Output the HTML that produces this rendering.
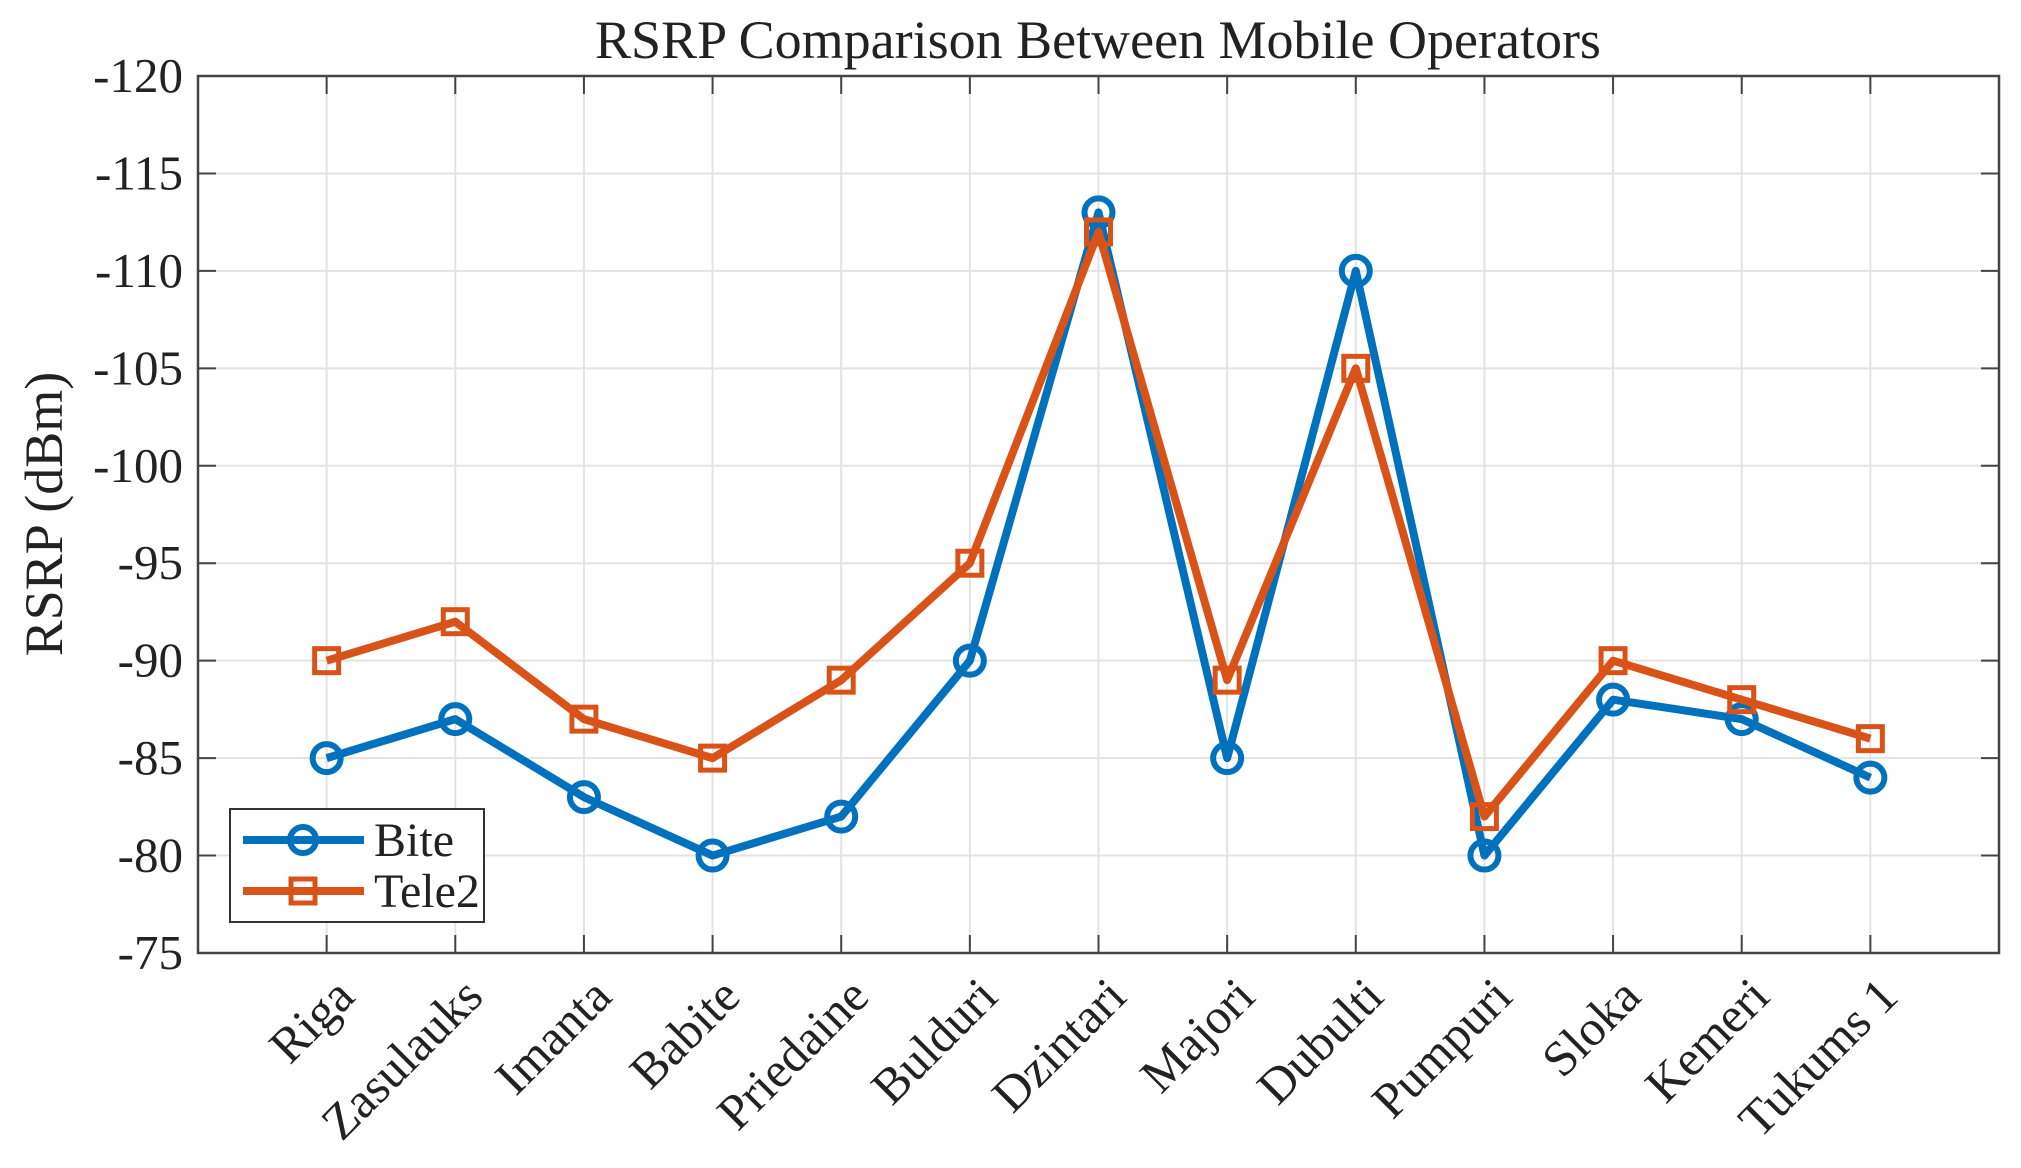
<!DOCTYPE html>
<html><head><meta charset="utf-8"><style>
html,body{margin:0;padding:0;background:#fff;}
svg{display:block;font-family:"Liberation Serif","Times New Roman",serif;}
</style></head><body>
<svg id="chart" width="2021" height="1168" viewBox="0 0 2021 1168" xmlns="http://www.w3.org/2000/svg">
<rect width="2021" height="1168" fill="#fff"/>
<g id="grid"></g>
<g id="axes"></g>
<g id="series"></g>
<text x="1098" y="58" font-size="54" text-anchor="middle" fill="#222">RSRP Comparison Between Mobile Operators</text>
<text transform="translate(62,514) rotate(-90)" font-size="54" text-anchor="middle" fill="#222">RSRP (dBm)</text>
<g>
<rect x="230" y="809" width="254" height="113" fill="#fff" stroke="#333" stroke-width="2"/>
<g>
<line x1="243" y1="840" x2="364" y2="840" stroke="#0072BD" stroke-width="8"/>
<circle cx="303" cy="840" r="13" fill="none" stroke="#0072BD" stroke-width="6"/>
<text x="374" y="856" font-size="48" fill="#222">Bite</text>
</g>
<g>
<line x1="243" y1="891" x2="364" y2="891" stroke="#D95319" stroke-width="8"/>
<rect x="291" y="879" width="24" height="24" fill="none" stroke="#D95319" stroke-width="5"/>
<text x="374" y="907" font-size="48" fill="#222">Tele2</text>
</g>
</g>
</svg>
<script>
const categories = ["Riga","Zasulauks","Imanta","Babite","Priedaine","Bulduri","Dzintari","Majori","Dubulti","Pumpuri","Sloka","Kemeri","Tukums 1"];
const biteValues = [-85,-87,-83,-80,-82,-90,-113,-85,-110,-80,-88,-87,-84];
const tele2Values = [-90,-92,-87,-85,-89,-95,-112,-89,-105,-82,-90,-88,-86];
const yTicks = [-120,-115,-110,-105,-100,-95,-90,-85,-80,-75];

const L=198,R=1999,T=76,B=953;
const NS="http://www.w3.org/2000/svg";
function xs(i){return L+(i+1)*(R-L)/(categories.length+1);}
function ys(v){return T+(v-(-120))/((-75)-(-120))*(B-T);}
function mk(tag,attrs,parent){const e=document.createElementNS(NS,tag);for(const k in attrs)e.setAttribute(k,attrs[k]);parent.appendChild(e);return e;}
const grid=document.getElementById('grid'),axes=document.getElementById('axes'),series=document.getElementById('series');

yTicks.forEach(v=>{
  const y=ys(v);
  const g=mk('line',{x1:L,x2:R,y1:y,y2:y,stroke:'#e3e3e3','stroke-width':2},grid);
  
  
  mk('line',{x1:L,x2:L+18,y1:y,y2:y,stroke:'#444','stroke-width':2},axes);
  mk('line',{x1:R-18,x2:R,y1:y,y2:y,stroke:'#444','stroke-width':2},axes);
  const t=mk('text',{x:183,y:y+16,'font-size':49,'text-anchor':'end',fill:'#222'},axes);
  
  
  t.textContent=v;
});
categories.forEach((c,i)=>{
  const x=xs(i);
  const g=mk('line',{x1:x,x2:x,y1:T,y2:B,stroke:'#e3e3e3','stroke-width':2},grid);
  
  
  mk('line',{x1:x,x2:x,y1:B-18,y2:B,stroke:'#444','stroke-width':2},axes);
  mk('line',{x1:x,x2:x,y1:T,y2:T+18,stroke:'#444','stroke-width':2},axes);
  const t=mk('text',{transform:`translate(${x+30},${B+46}) rotate(-45)`,'font-size':50,'text-anchor':'end',fill:'#222'},axes);
  
  
  t.textContent=c;
});
const frame=mk('rect',{x:L,y:T,width:R-L,height:B-T,fill:'none',stroke:'#444','stroke-width':2.5},axes);



function drawSeries(vals,color,marker,name){
  const g=mk('g',{},series);
  
  
  const pts=vals.map((v,i)=>xs(i)+','+ys(v)).join(' ');
  const pl=mk('polyline',{points:pts,fill:'none',stroke:color,'stroke-width':8,'stroke-linejoin':'round'},g);
  
  
  vals.forEach((v,i)=>{
    let m;
    if(marker==='circle') m=mk('circle',{cx:xs(i),cy:ys(v),r:14,fill:'none',stroke:color,'stroke-width':6},g);
    else m=mk('rect',{x:xs(i)-12,y:ys(v)-12,width:24,height:24,fill:'none',stroke:color,'stroke-width':5},g);
    
    
  });
}
drawSeries(biteValues,'#0072BD','circle','bite-series');
drawSeries(tele2Values,'#D95319','square','tele2-series');
</script>
</body></html>
